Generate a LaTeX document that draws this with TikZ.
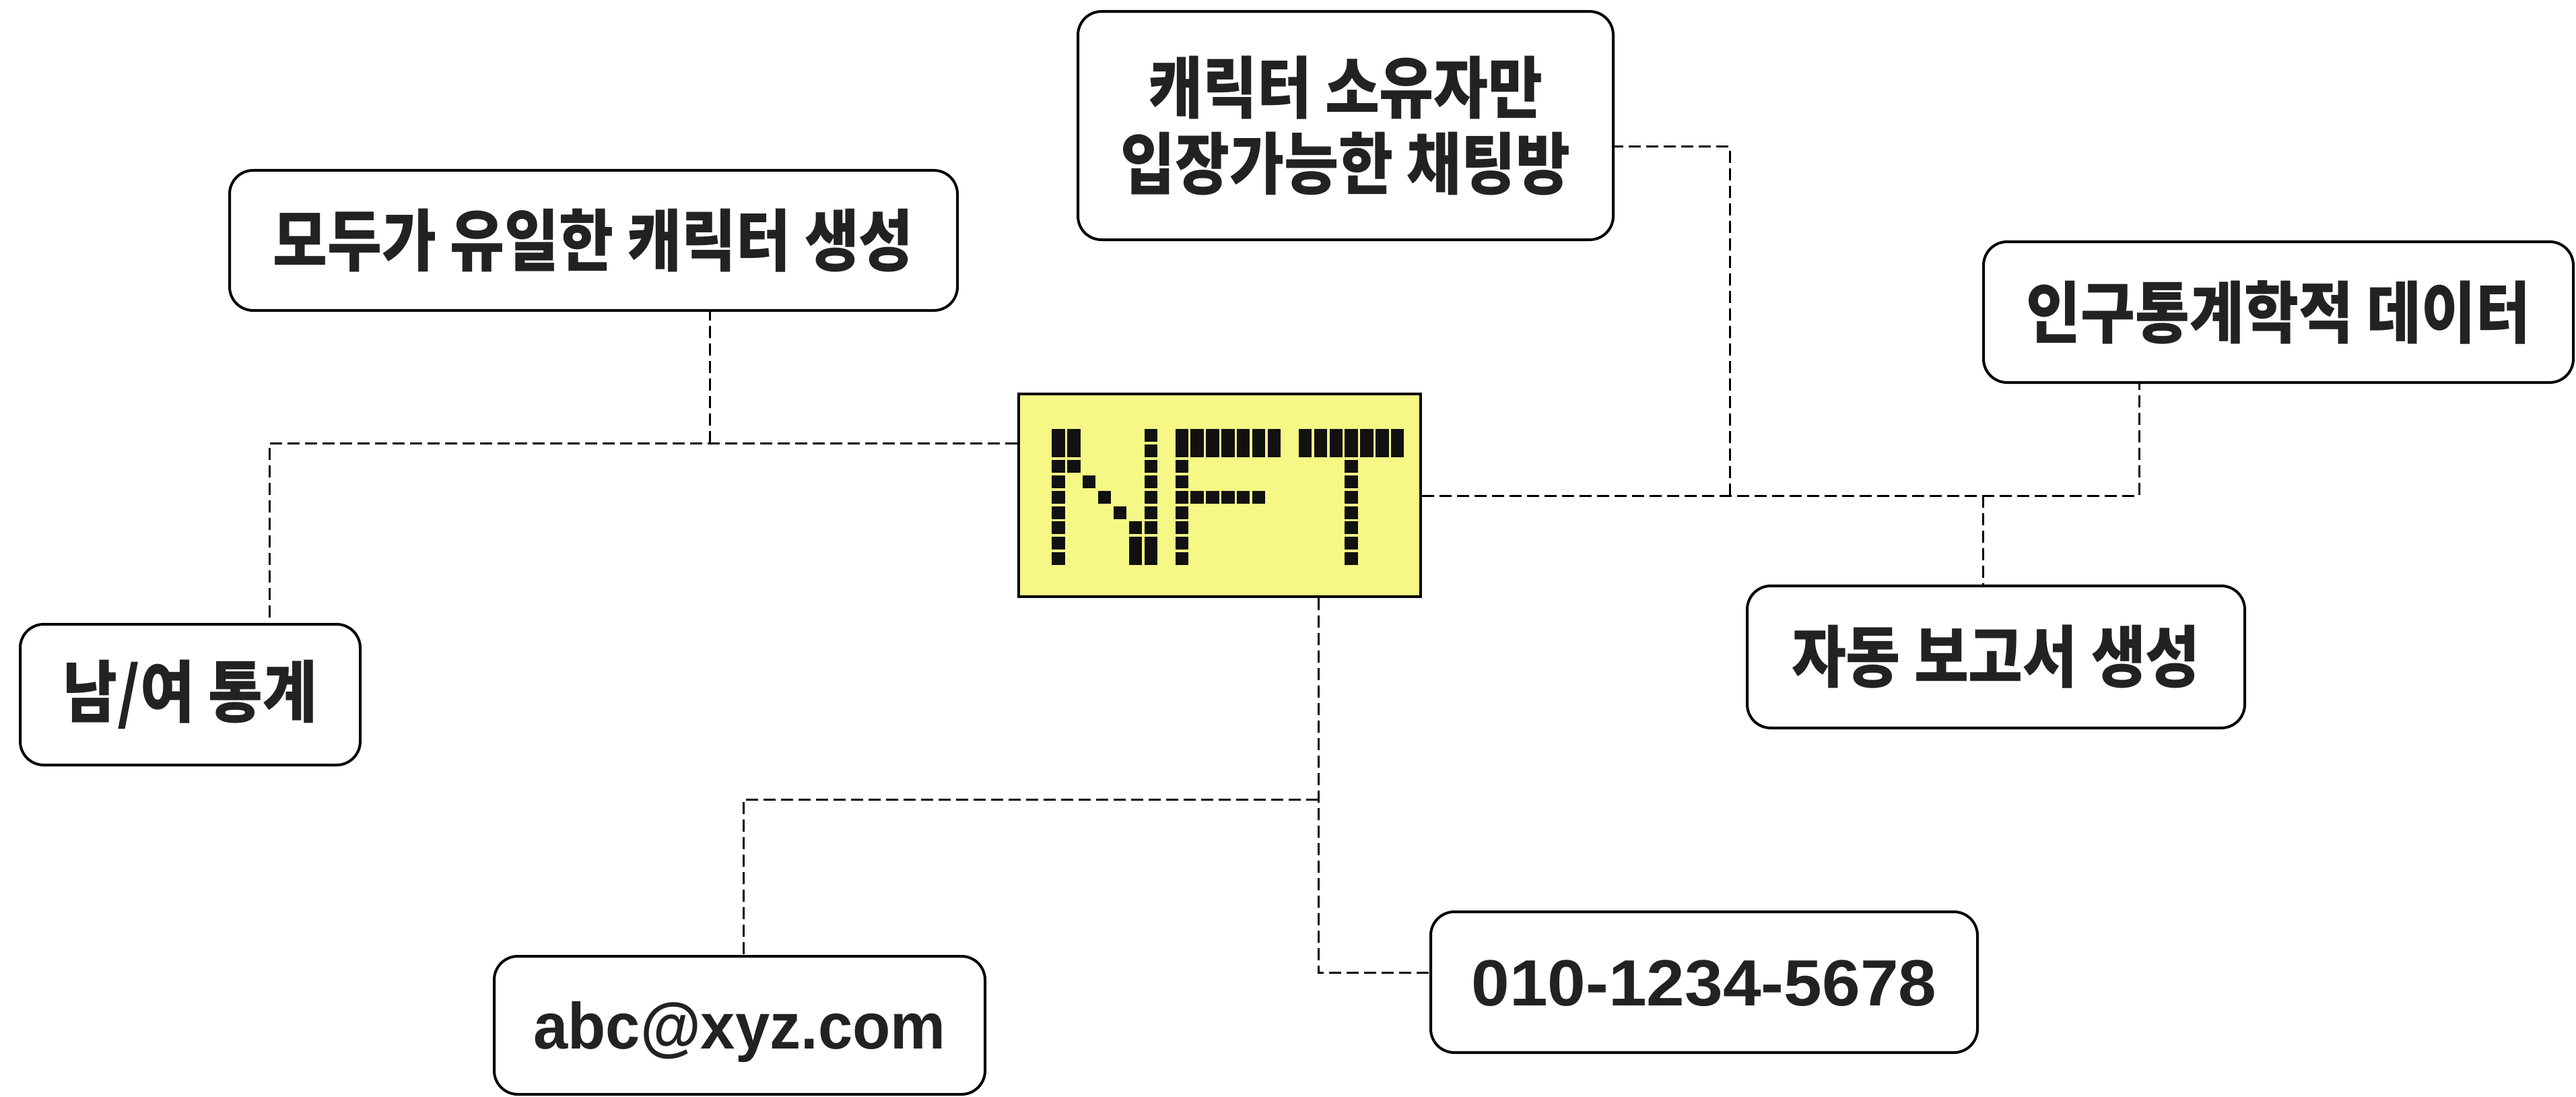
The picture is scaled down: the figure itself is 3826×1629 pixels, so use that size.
\documentclass[tikz,border=0pt]{standalone}
\usepackage{fontspec}
\newfontfamily\krfont{Noto Sans CJK KR}[FakeStretch=0.88]
\newfontfamily\latnarrow{Liberation Sans}[FakeStretch=0.95]
\newfontfamily\latwide{Liberation Sans}[FakeStretch=1.05]
\usetikzlibrary{calc}
\definecolor{nftyellow}{HTML}{F6F885}
\definecolor{ink}{HTML}{222222}
\definecolor{dotc}{HTML}{111111}
\tikzset{
  card/.style={draw=black, line width=4pt, rounded corners=35pt, fill=white,
    inner sep=0pt, text=ink, align=center,
    font=\krfont\bfseries\fontsize{100}{113}\selectfont},
  latcard/.style={card, text height=69pt, text depth=0pt},
  conn/.style={draw=black, line width=3pt, dash pattern=on 18pt off 8pt},
  nftbox/.style={draw=black, line width=4pt, fill=nftyellow, inner sep=0pt},
}
\newcommand\dotcell[3]{\fill[dotc] ({1562.3+22.9*#1},{636.7+22.96*#2}) rectangle ++(19.3,{22.96*(#3-#2)+19});}
\begin{document}
\begin{tikzpicture}[x=1pt,y=-1pt]
\useasboundingbox (0,0) rectangle (3826,1629);
% nodes
\node[nftbox, minimum width=597pt, minimum height=301pt] (nft) at (1811.5,735.5) {};
\node[card, minimum width=1081pt, minimum height=208pt] (A) at (881.5,357) {모두가 유일한 캐릭터 생성};
\node[card, minimum width=795pt, minimum height=339pt] (B) at (1998.5,186.5) {캐릭터 소유자만\\입장가능한 채팅방};
\node[card, minimum width=876pt, minimum height=209pt] (C) at (3384,463.5) {인구통계학적 데이터};
\node[card, minimum width=739pt, minimum height=211pt] (D) at (2964.5,975.5) {자동 보고서 생성};
\node[card, minimum width=505pt, minimum height=209pt] (E) at (282.5,1031.5) {남/여 통계};
\node[latcard, font=\latnarrow\bfseries\fontsize{97}{115}\selectfont, minimum width=729pt, minimum height=205pt] (F) at (1098.5,1522.5) {abc@xyz.com};
\node[latcard, font=\latwide\bfseries\fontsize{97}{115}\selectfont, minimum width=812pt, minimum height=209pt] (G) at (2531,1458.5) {010-1234-5678};
% junctions
\coordinate (jl) at (400,658);
\coordinate (ja) at (1054,658);
\coordinate (jr) at (3177,736);
\coordinate (jb) at (2569,736);
\coordinate (jbt) at (2569,218);
\coordinate (jd) at (2945,736);
\coordinate (jdn) at (1958,1444);
\coordinate (jf) at (1958,1187);
\coordinate (jfl) at (1104,1187);
% connectors
\draw[conn] (nft.west |- jl) -- (jl) -- (jl |- E.north);
\draw[conn] (ja) -- (ja |- A.south);
\draw[conn] (nft.east |- jr) -- (jr) -- (jr |- C.south);
\draw[conn] (jb) -- (jbt) -- (jbt -| B.east);
\draw[conn] (jd) -- (jd |- D.north);
\draw[conn] (nft.south -| jdn) -- (jdn) -- (jdn -| G.west);
\draw[conn] (jf) -- (jfl) -- (jfl |- F.north);
% NFT dot matrix
\foreach \c in {0,1} {\dotcell{\c}{0}{1}}
\foreach \r in {2,...,8} {\dotcell{0}{\r}{\r}}
\dotcell{1}{2}{2}
\dotcell{2}{3}{3}
\dotcell{3}{4}{4}
\dotcell{4}{5}{5}
\dotcell{5}{6}{6}
\dotcell{5}{7}{8}
\foreach \r in {0,...,6} {\dotcell{6}{\r}{\r}}
\dotcell{6}{7}{8}
\foreach \c in {8,...,14} {\dotcell{\c}{0}{1}}
\foreach \r in {2,...,8} {\dotcell{8}{\r}{\r}}
\foreach \c in {9,...,13} {\dotcell{\c}{4}{4}}
\foreach \c in {16,...,22} {\dotcell{\c}{0}{1}}
\foreach \r in {2,...,8} {\dotcell{19}{\r}{\r}}
\end{tikzpicture}
\end{document}
